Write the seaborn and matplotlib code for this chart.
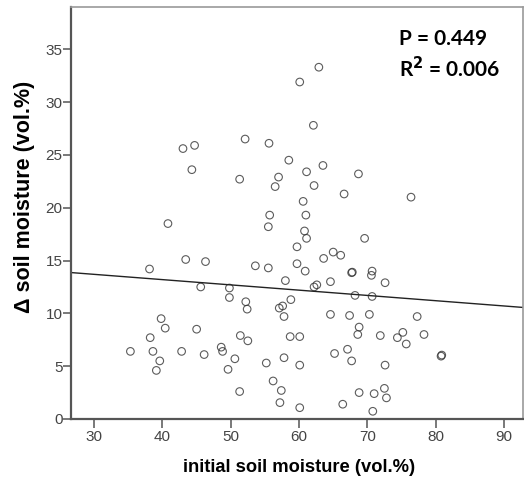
import numpy as np
import pandas as pd
import matplotlib
matplotlib.use("Agg")
import matplotlib.pyplot as plt
import seaborn as sns

# Initial soil moisture (vol.%) and change in soil moisture (vol.%)
initial_moisture = [
    35.3, 38.1, 38.2, 38.6, 39.1, 39.6, 39.8, 40.4, 40.8, 42.8,
    43.0, 43.4, 44.3, 44.7, 45.0, 45.6, 46.1, 46.3, 48.6, 48.8,
    49.6, 49.8, 49.8, 50.6, 51.3, 51.3, 51.4, 52.1, 52.2, 52.4,
    52.5, 53.6, 55.2, 55.5, 55.5, 55.6, 55.7, 56.2, 56.5, 57.0,
    57.1, 57.2, 57.4, 57.6, 57.8, 57.8, 58.0, 58.5, 58.7, 58.8,
    59.7, 59.7, 60.1, 60.1, 60.1, 60.1, 60.6, 60.8, 60.9, 61.0,
    61.1, 61.1, 62.1, 62.2, 62.2, 62.6, 62.9, 63.5, 63.6, 64.6,
    64.6, 65.0, 65.2, 66.1, 66.4, 66.6, 67.1, 67.4, 67.7, 67.8,
    67.7, 68.2, 68.6, 68.7, 68.8, 68.8, 69.6, 70.3, 70.7, 70.6,
    70.7, 70.8, 71.0, 71.9, 72.5, 72.6, 72.6, 72.8, 74.4, 75.2,
    75.7, 76.4, 77.3, 78.3, 80.8, 80.9,
]
delta_moisture = [
    6.4, 14.2, 7.7, 6.4, 4.6, 5.5, 9.5, 8.6, 18.5, 6.4,
    25.6, 15.1, 23.6, 25.9, 8.5, 12.5, 6.1, 14.9, 6.8, 6.4,
    4.7, 12.4, 11.5, 5.7, 22.7, 2.6, 7.9, 26.5, 11.1, 10.4,
    7.4, 14.5, 5.3, 14.3, 18.2, 26.1, 19.3, 3.6, 22.0, 22.9,
    10.5, 1.55, 2.7, 10.7, 9.7, 5.8, 13.1, 24.5, 7.8, 11.3,
    16.3, 14.7, 31.9, 7.8, 5.1, 1.07, 20.6, 17.8, 14.0, 19.3,
    23.4, 17.1, 27.8, 22.1, 12.5, 12.7, 33.3, 24.0, 15.2, 13.0,
    9.9, 15.8, 6.2, 15.5, 1.4, 21.3, 6.6, 9.8, 13.85, 13.9,
    5.5, 11.7, 8.0, 23.2, 8.7, 2.5, 17.1, 9.9, 14.0, 13.6,
    11.6, 0.73, 2.4, 7.9, 2.9, 12.9, 5.1, 2.0, 7.7, 8.2,
    7.1, 21.0, 9.7, 8.0, 5.95, 6.05,
]

x_ticks = [30, 40, 50, 60, 70, 80, 90]
y_ticks = [0, 5, 10, 15, 20, 25, 30, 35]
p_value = "0.449"
r_squared = "0.006"

df = pd.DataFrame({"initial": initial_moisture, "delta": delta_moisture})

sns.set_theme(style="white")
plt.rcParams["font.family"] = ["Liberation Sans", "DejaVu Sans"]

fig = plt.figure(figsize=(5.24, 4.82), dpi=100)
ax = fig.add_axes([71 / 524, 63 / 482, 452 / 524, 412 / 482])
ax.set_xlim(26.6, 92.8)
ax.set_ylim(0, 39.0)

sns.regplot(
    data=df, x="initial", y="delta", ax=ax, ci=None, truncate=False,
    scatter_kws=dict(s=30, facecolors="none", edgecolors="#333333",
                     linewidths=0.8),
    line_kws=dict(color="#222222", lw=1.0),
)
ax.set_xlim(26.6, 92.8)
ax.set_ylim(0, 39.0)

ax.set_xticks(x_ticks)
ax.set_yticks(y_ticks)
ax.tick_params(axis="x", length=6.5, width=1.1, color="#555555",
               labelsize=11, labelcolor="#444444", pad=1.5, bottom=True)
ax.tick_params(axis="y", length=5.5, width=1.1, color="#555555",
               labelsize=11, labelcolor="#444444", pad=0.5, left=True)

for side in ["left", "bottom"]:
    ax.spines[side].set_color("#555555")
    ax.spines[side].set_linewidth(1.6)
for side in ["top", "right"]:
    ax.spines[side].set_color("#9a9a9a")
    ax.spines[side].set_linewidth(1.2)

ax.set_xlabel("initial soil moisture (vol.%)", fontsize=13.2,
              fontweight="bold", color="black")
ax.set_ylabel("Δ soil moisture (vol.%)", fontsize=15.5, fontweight="bold",
              color="black")
ax.xaxis.set_label_coords(0.504, -0.097)
ax.yaxis.set_label_coords(-0.08, 0.54)

ax.text(399 / 524, 1 - 45 / 482, f"P = {p_value}", transform=fig.transFigure,
        fontsize=15, fontweight="bold", family=["Lato", "DejaVu Sans"],
        ha="left", va="baseline", color="black")
ax.text(399 / 524, 1 - 77 / 482, f"R$^{{\\mathbf{{2}}}}$ = {r_squared}",
        transform=fig.transFigure, fontsize=15, fontweight="bold",
        family=["Lato", "DejaVu Sans"], ha="left", va="baseline",
        color="black")

fig.savefig("out.png", dpi=100)
